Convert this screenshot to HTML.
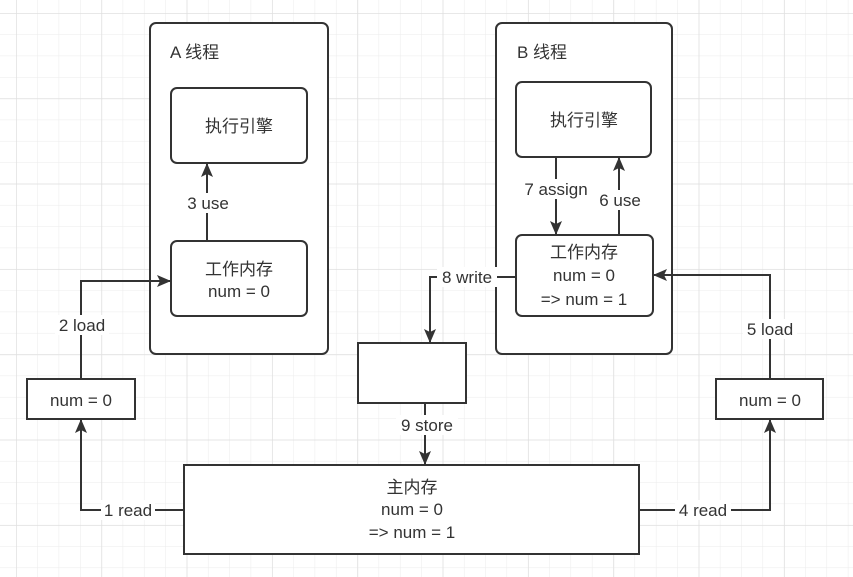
<!DOCTYPE html>
<html><head><meta charset="utf-8"><style>
html,body{margin:0;padding:0;background:#fff}
svg{display:block}
text{font-family:"Liberation Sans","Noto Sans CJK SC",sans-serif;font-size:17px;fill:#333}
</style></head><body>
<svg width="853" height="577" viewBox="0 0 853 577" xmlns="http://www.w3.org/2000/svg">
<defs>
<pattern id="g" x="16" y="13" width="21.33" height="21.33" patternUnits="userSpaceOnUse">
<path d="M0 0H21.33M0 0V21.33" stroke="#ebebeb" stroke-width="1" fill="none"/>
</pattern>
<pattern id="G" x="16" y="13" width="85.33" height="85.33" patternUnits="userSpaceOnUse">
<path d="M0 0H85.33M0 0V85.33" stroke="#e0e0e0" stroke-width="1.5" fill="none"/>
</pattern>
<marker id="a" markerWidth="14" markerHeight="14" refX="13" refY="7" orient="auto" markerUnits="userSpaceOnUse">
<path d="M0 1L14 7L0 13L3 7Z" fill="#333"/>
</marker>
</defs>
<rect width="853" height="577" fill="url(#g)"/>
<rect width="853" height="577" fill="url(#G)"/>
<g fill="#fff" stroke="#333" stroke-width="2">
<rect x="150" y="23" width="178" height="331" rx="6"/>
<rect x="496" y="23" width="176" height="331" rx="6"/>
<rect x="171" y="88" width="136" height="75" rx="6"/>
<rect x="171" y="241" width="136" height="75" rx="6"/>
<rect x="516" y="82" width="135" height="75" rx="6"/>
<rect x="516" y="235" width="137" height="81" rx="6"/>
<rect x="358" y="343" width="108" height="60"/>
<rect x="184" y="465" width="455" height="89"/>
<rect x="27" y="379" width="108" height="40"/>
<rect x="716" y="379" width="107" height="40"/>
</g>
<g fill="none" stroke="#333" stroke-width="2" marker-end="url(#a)">
<path d="M207 241V164"/>
<path d="M556 157V234"/>
<path d="M619 235V158"/>
<path d="M516 277H430V342"/>
<path d="M425 403V464"/>
<path d="M184 510H81V420"/>
<path d="M81 379V281H170"/>
<path d="M639 510H770V420"/>
<path d="M770 379V275H654"/>
</g>
<g fill="#fff">
<rect x="184" y="193" width="48" height="20"/>
<rect x="520" y="179" width="72" height="20"/>
<rect x="597" y="190" width="46" height="20"/>
<rect x="437" y="267" width="60" height="20"/>
<rect x="396" y="415" width="62" height="20"/>
<rect x="101" y="500" width="54" height="20"/>
<rect x="55" y="315" width="54" height="20"/>
<rect x="675" y="500" width="56" height="20"/>
<rect x="743" y="319" width="54" height="20"/>
</g>
<g text-anchor="middle">
<text x="239" y="132">执行引擎</text>
<text x="239" y="275">工作内存</text>
<text x="239" y="297">num = 0</text>
<text x="584" y="126">执行引擎</text>
<text x="584" y="258">工作内存</text>
<text x="584" y="281">num = 0</text>
<text x="584" y="305">=&gt; num = 1</text>
<text x="412" y="493">主内存</text>
<text x="412" y="515">num = 0</text>
<text x="412" y="538">=&gt; num = 1</text>
<text x="81" y="406">num = 0</text>
<text x="770" y="406">num = 0</text>
<text x="208" y="209">3 use</text>
<text x="556" y="195">7 assign</text>
<text x="620" y="206">6 use</text>
<text x="467" y="283">8 write</text>
<text x="427" y="431">9 store</text>
<text x="128" y="516">1 read</text>
<text x="82" y="331">2 load</text>
<text x="703" y="516">4 read</text>
<text x="770" y="335">5 load</text>
</g>
<text x="170" y="58">A 线程</text>
<text x="517" y="58">B 线程</text>
</svg>
</body></html>
